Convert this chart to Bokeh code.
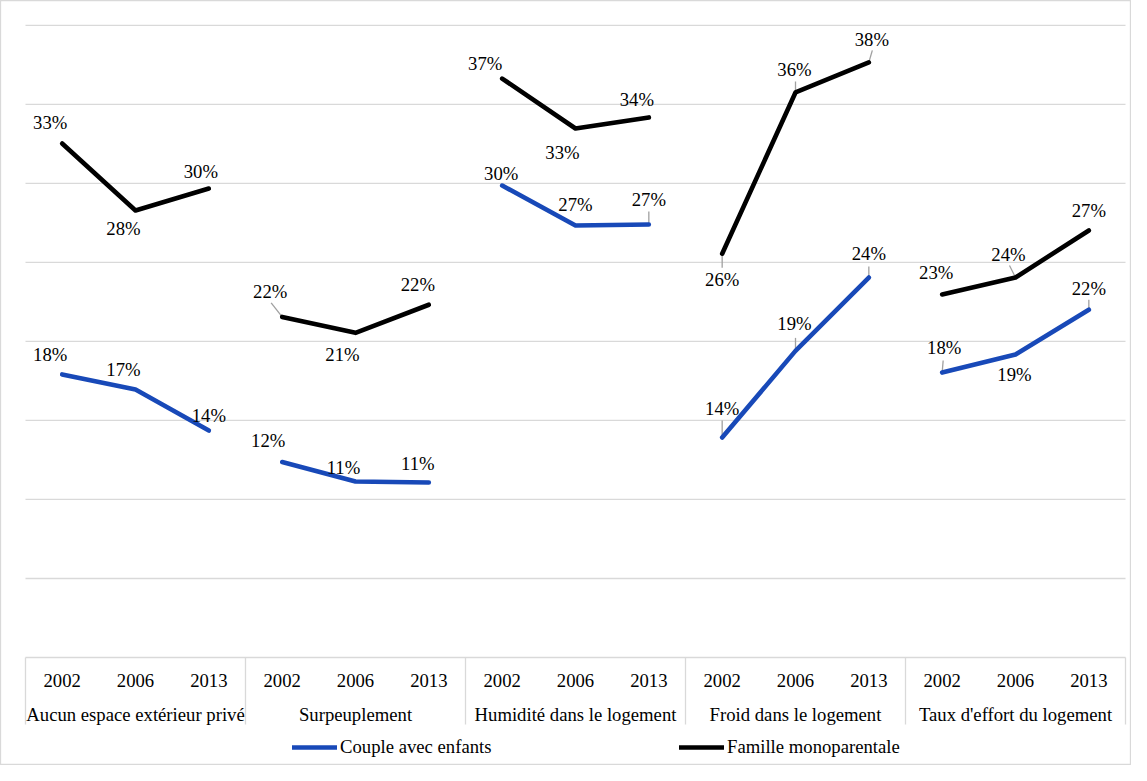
from bokeh.plotting import figure
from bokeh.models import Range1d, Legend, LegendItem
from bokeh.core.properties import value
from bokeh.embed import file_html
from bokeh.resources import INLINE

# ---------------- data ----------------
groups = ["Aucun espace extérieur privé", "Surpeuplement", "Humidité dans le logement",
          "Froid dans le logement", "Taux d'effort du logement"]
years = ["2002", "2006", "2013"]
couple = [17.91, 16.96, 14.36,
          12.37, 11.14, 11.07,
          29.86, 27.33, 27.40,
          13.92, 19.40, 24.04,
          18.03, 19.17, 22.00]
mono = [32.52, 28.28, 29.67,
        21.55, 20.54, 22.32,
        36.63, 33.47, 34.17,
        25.55, 35.75, 37.65,
        22.97, 24.04, 27.02]
grid_values = [5, 10, 15, 20, 25, 30, 35, 40]

# ---------------- layout (pixel offsets of data labels, leaders) ----------------
couple_lbl = [(-12, -20), (-12, -20), (0, -15), (-14, -21), (-12, -14), (-11, -19),
              (-1, -12), (0, -21), (0, -25), (0, -29), (-1, -27), (0, -24),
              (2, -25), (-1, 20), (0, -21)]
mono_lbl = [(-12, -21), (-12, 18), (-8, -17), (-12, -25), (-13, 22), (-11, -20),
            (-17, -15), (-13, 24), (-12, -18), (0, 26), (-1, -23), (3, -23),
            (-6, -22), (-7, -23), (0, -20)]
couple_lead = {8: (0, -13), 9: (0, -17), 10: (0, -13), 11: (0, -11), 12: (1, -12), 14: (0, -10)}
mono_lead = {3: (-11, -14), 9: (0, 14), 10: (0, -11), 11: (3.5, -12), 13: (-6, -12)}

W, H = 1131, 765
PX_X = 1100 / 15.0
PX_Y = (657 - 24.8) / 40.0
x0 = -25 / PX_X
x1 = x0 + W / PX_X
y1 = 657 / PX_Y
y0 = y1 - H / PX_Y

FONT = "Liberation Serif"
FS = "18.7px"
BLUE = "#1849B8"
GRID = "#D9D9D9"
LEAD = "#A0A0A0"

p = figure(width=W, height=H, output_backend="svg", toolbar_location=None,
           x_axis_type=None, y_axis_type=None, min_border=0,
           x_range=Range1d(x0, x1), y_range=Range1d(y0, y1))
p.grid.visible = False
p.outline_line_color = GRID
p.outline_line_width = 1.3
p.background_fill_color = "white"
p.border_fill_color = "white"

n_groups = len(groups)
n_years = len(years)
n_cats = n_groups * n_years


def py(cy):
    """canvas pixel row -> data y"""
    return (657 - cy) / PX_Y


# gridlines
p.segment(x0=[0] * len(grid_values), x1=[n_cats] * len(grid_values),
          y0=grid_values, y1=grid_values, line_color=GRID, line_width=1.3)

# category axis box
box_bottom = py(724)
p.segment(x0=[0], x1=[n_cats], y0=[0], y1=[0], line_color=GRID, line_width=1.3)
sep_x = [g * n_years for g in range(n_groups + 1)]
p.segment(x0=sep_x, x1=sep_x, y0=[0] * len(sep_x), y1=[box_bottom] * len(sep_x),
          line_color=GRID, line_width=1.3)

txt = dict(text_font=value(FONT), text_font_size=value(FS), text_color="black",
           text_align="center", text_baseline="middle")

year_x = [g * n_years + j + 0.5 for g in range(n_groups) for j in range(n_years)]
year_t = [years[j] for g in range(n_groups) for j in range(n_years)]
p.text(x=year_x, y=[py(680)] * len(year_x), text=year_t, **txt)
grp_x = [g * n_years + n_years / 2.0 for g in range(n_groups)]
p.text(x=grp_x, y=[py(713.5)] * len(grp_x), text=groups, **txt)

xs_pts = [i + 0.5 for i in range(n_cats)]


def leaders(vals, lead):
    a0, a1, b0, b1 = [], [], [], []
    for i, (dx, dy) in lead.items():
        a0.append(xs_pts[i] + dx / PX_X)
        b0.append(vals[i] - dy / PX_Y)
        a1.append(xs_pts[i])
        b1.append(vals[i])
    p.segment(x0=a0, y0=b0, x1=a1, y1=b1, line_color=LEAD, line_width=1.3)


leaders(couple, couple_lead)
leaders(mono, mono_lead)


def series(vals, color):
    xs = [[g * n_years + j + 0.5 for j in range(n_years)] for g in range(n_groups)]
    ys = [vals[g * n_years:(g + 1) * n_years] for g in range(n_groups)]
    return p.multi_line(xs=xs, ys=ys, line_color=color, line_width=4.6,
                        line_cap="round", line_join="round")


r_blue = series(couple, BLUE)
r_black = series(mono, "black")


def labels(vals, offs):
    lx = [xs_pts[i] + offs[i][0] / PX_X for i in range(n_cats)]
    ly = [vals[i] - offs[i][1] / PX_Y for i in range(n_cats)]
    lt = [f"{int(v + 0.5)}%" for v in vals]
    p.text(x=lx, y=ly, text=lt, **txt)


labels(couple, couple_lbl)
labels(mono, mono_lbl)

common = dict(orientation="horizontal", padding=0, margin=0, spacing=0,
              glyph_width=45, glyph_height=20, label_height=20, label_standoff=3,
              label_text_font=FONT, label_text_font_size=FS, label_text_color="black",
              border_line_alpha=0, background_fill_alpha=0)
leg_bottom = H - 748.3 - 10
leg1 = Legend(items=[LegendItem(label="Couple avec enfants", renderers=[r_blue])],
              location=(292, leg_bottom), **common)
leg2 = Legend(items=[LegendItem(label="Famille monoparentale", renderers=[r_black])],
              location=(679, leg_bottom), **common)
p.add_layout(leg1)
p.add_layout(leg2)

open("out.html", "w").write(file_html(p, INLINE))
